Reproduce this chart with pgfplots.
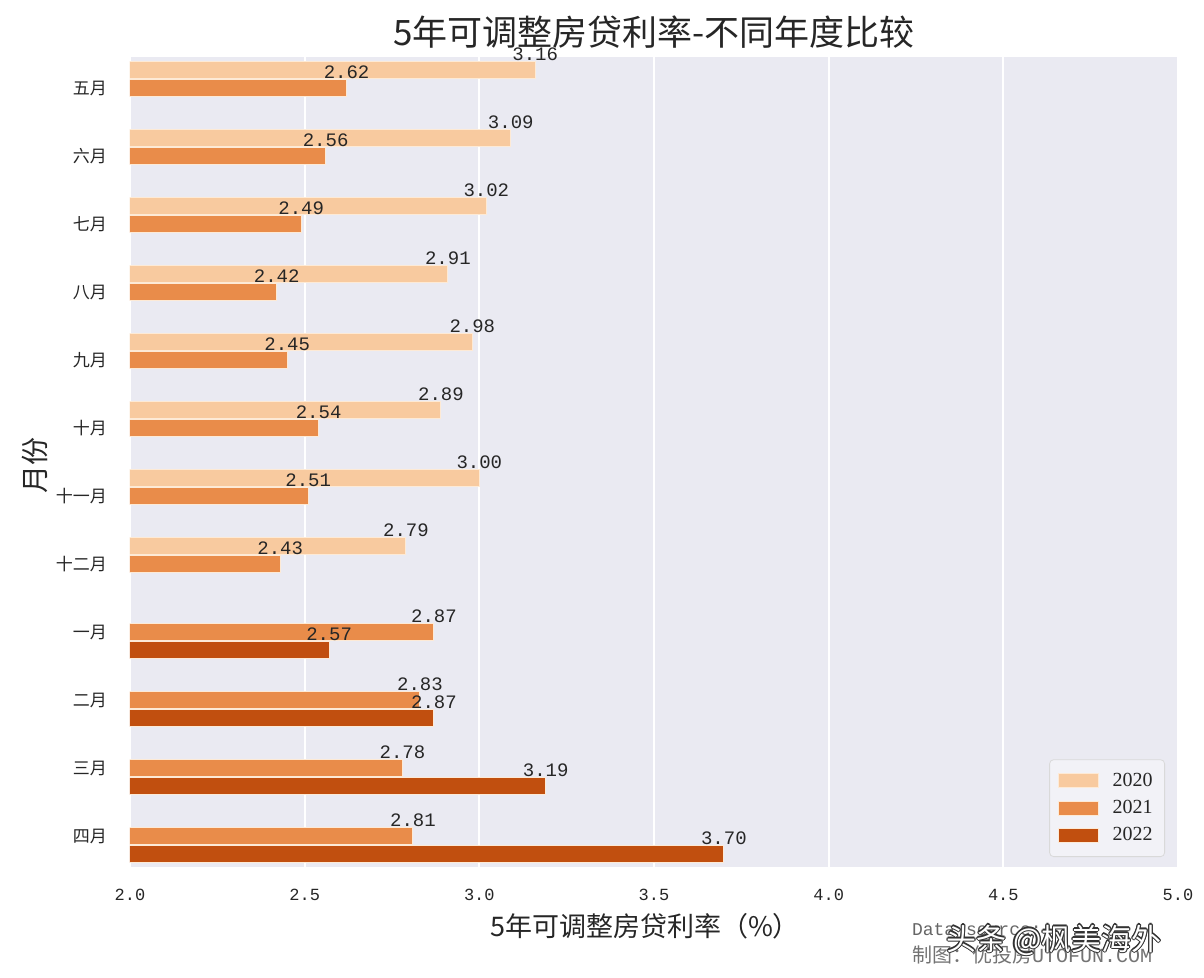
\documentclass[border=0pt]{standalone}
\usepackage{fontspec}
\setmainfont{Liberation Serif}
\setmonofont{Liberation Mono}
\newfontfamily\cjk{Noto Sans CJK SC}
\usepackage{pgfplots}
\pgfplotsset{compat=1.18}
\definecolor{c20}{HTML}{F8CA9F}
\definecolor{c21}{HTML}{E98C4A}
\definecolor{c22}{HTML}{C14F0F}
\definecolor{bgc}{HTML}{EAEAF2}
\definecolor{edgec}{HTML}{FDEAD6}
\definecolor{txt}{HTML}{262626}
\begin{document}
\begin{tikzpicture}
\fill[white] (0,0) rectangle (602pt,-489pt);
\begin{axis}[
  at={(65pt,-433.5pt)}, anchor=south west,
  scale only axis, width=524pt, height=405pt,
  xmin=2, xmax=5, ymin=-0.456, ymax=11.456,
  y dir=reverse,
  axis background/.style={fill=bgc},
  axis line style={draw=none},
  xmajorgrids, grid style={white, line width=1pt},
  major tick length=0pt,
  xtick={2,2.5,3,3.5,4,4.5,5},
  xticklabel style={/pgf/number format/.cd, fixed, fixed zerofill, precision=1, assume math mode=true, /tikz/.cd, font=\ttfamily\fontsize{8.5}{10}\selectfont, text=txt, yshift=-7.5pt},
  ytick={0,1,2,3,4,5,6,7,8,9,10,11},
  yticklabels={五月,六月,七月,八月,九月,十月,十一月,十二月,一月,二月,三月,四月},
  yticklabel style={font=\cjk\fontsize{8.5}{10}\selectfont, text=txt, xshift=-8pt},
  xbar, bar width=0.25, bar shift=0pt,
  point meta=x,
  nodes near coords={\pgfmathprintnumber[fixed, fixed zerofill, precision=2, assume math mode=true]{\pgfplotspointmeta}},
  nodes near coords style={font=\ttfamily\fontsize{9.5}{10}\selectfont, text=txt, anchor=south, inner sep=0pt, yshift=4.6pt},
  legend cell align=left,
  legend style={at={(1,0)}, anchor=south east, xshift=-6.5pt, yshift=5pt,
    draw=black!15, rounded corners=2pt, fill=bgc!60!white,
    font=\fontsize{10}{11}\selectfont, text=txt,
    row sep=1.5pt, inner xsep=4pt, inner ysep=4.5pt,
    /tikz/every odd column/.append style={column sep=5pt}},
  legend image code/.code={\draw[#1, draw=edgec, line width=0.5pt, sharp corners] (0pt,-3.5pt) rectangle (20pt,3.5pt);},
]
\addplot[fill=c20, draw=edgec, line width=0.5pt] coordinates {
  (3.16,-0.265) (3.09,0.735) (3.02,1.735) (2.91,2.735) (2.98,3.735) (2.89,4.735) (3.00,5.735) (2.79,6.735)
};
\addlegendentry{2020}
\addplot[fill=c21, draw=edgec, line width=0.5pt] coordinates {
  (2.62,0) (2.56,1) (2.49,2) (2.42,3) (2.45,4) (2.54,5) (2.51,6) (2.43,7) (2.87,8) (2.83,9) (2.78,10) (2.81,11)
};
\addlegendentry{2021}
\addplot[fill=c22, draw=edgec, line width=0.5pt] coordinates {
  (2.57,8.265) (2.87,9.265) (3.19,10.265) (3.70,11.265)
};
\addlegendentry{2022}
\end{axis}
\node[font=\cjk\fontsize{17.5}{20}\selectfont, text=txt] at (327pt,-16pt) {5年可调整房贷利率-不同年度比较};
\node[font=\cjk\fontsize{13.5}{16}\selectfont, text=txt] at (322.5pt,-463pt) {5年可调整房贷利率（\%）};
\node[font=\cjk\fontsize{14}{16}\selectfont, text=txt, rotate=90] at (17.5pt,-232.5pt) {月份};
\node[anchor=west, font=\ttfamily\fontsize{9}{10}\selectfont, text=black!60] at (452.5pt,-465pt) {Data source:};
\node[anchor=west, font=\cjk\fontsize{10}{12}\selectfont, text=black!55] at (452.5pt,-477.5pt) {制图：优投房{\ttfamily UTOFUN.COM}};
\foreach \dx/\dy in {0.6/0,-0.6/0,0/0.6,0/-0.6,0.45/0.45,-0.45/0.45,0.45/-0.45,-0.45/-0.45}{
  \node[font=\cjk\fontsize{15}{17}\selectfont, text=black!80] at ([xshift=\dx pt, yshift=\dy pt]527pt,-470pt) {头条 @枫美海外};
}
\node[font=\cjk\fontsize{15}{17}\selectfont, text=white] at (527pt,-470pt) {头条 @枫美海外};
\end{tikzpicture}
\end{document}
